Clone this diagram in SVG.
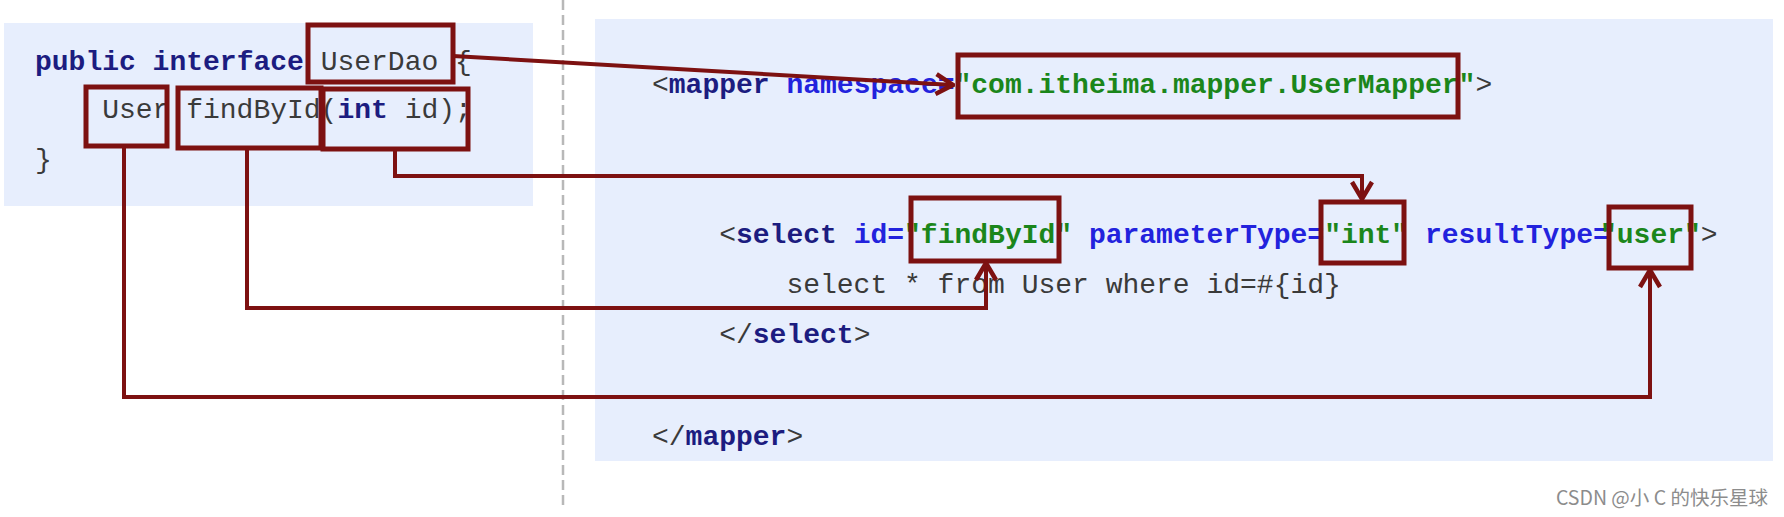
<svg xmlns="http://www.w3.org/2000/svg" width="1784" height="517" viewBox="0 0 1784 517">
<style>
.code{font-family:"Liberation Mono","Courier New",monospace;font-size:28px;fill:#3a3a3a}
.kw{font-weight:bold;fill:#1c1c80}
.at{font-weight:bold;fill:#2222dd}
.val{font-weight:bold;fill:#1b861b}
.box{fill:none;stroke:#7d1111;stroke-width:5}
.conn{fill:none;stroke:#7d1111;stroke-width:4;stroke-linejoin:miter}
.panel{fill:#e7eefd}
.wm{font-family:"Noto Sans CJK SC","Noto Sans",sans-serif;font-size:19.5px;fill:#8c8c8c}
</style>
<defs>
<marker id="ah" markerUnits="userSpaceOnUse" viewBox="0 0 22 24" markerWidth="22" markerHeight="24" refX="20" refY="12" orient="auto">
<path d="M3,2 L20,12 L3,22" fill="none" stroke="#7d1111" stroke-width="4.5"/>
</marker>
</defs>
<rect width="1784" height="517" fill="#ffffff"/>
<rect class="panel" x="4" y="23" width="529" height="183"/>
<rect class="panel" x="595" y="19" width="1178" height="442"/>
<line x1="563" y1="0" x2="563" y2="507" stroke="#b8b8b8" stroke-width="2.5" stroke-dasharray="10 5"/>

<g id="interface-code">
<text class="code" x="35" y="70" xml:space="preserve"><tspan class="kw">public interface</tspan> UserDao {</text>
<text class="code" x="102.2" y="118" xml:space="preserve">User findById(<tspan class="kw">int</tspan> id);</text>
<text class="code" x="35" y="168">}</text>
</g>

<g id="mapper-code">
<text class="code" x="652" y="93" xml:space="preserve">&lt;<tspan class="kw">mapper</tspan> <tspan class="at">namespace=</tspan><tspan class="val">"com.itheima.mapper.UserMapper"</tspan>&gt;</text>
<text class="code" x="719.2" y="243" xml:space="preserve">&lt;<tspan class="kw">select</tspan> <tspan class="at">id=</tspan><tspan class="val">"findById"</tspan> <tspan class="at">parameterType=</tspan><tspan class="val">"int"</tspan> <tspan class="at">resultType=</tspan><tspan class="val" x="1600">"user"</tspan>&gt;</text>
<text class="code" x="786.4" y="293" xml:space="preserve">select * from User where id=#{id}</text>
<text class="code" x="719.2" y="343" xml:space="preserve">&lt;/<tspan class="kw">select</tspan>&gt;</text>
<text class="code" x="652" y="445" xml:space="preserve">&lt;/<tspan class="kw">mapper</tspan>&gt;</text>
</g>

<g id="box-userdao"><rect class="box" x="308" y="25" width="145" height="57"/></g>
<g id="box-user"><rect class="box" x="86" y="87" width="81" height="59"/></g>
<g id="box-findbyid"><rect class="box" x="178" y="88" width="143" height="60"/></g>
<g id="box-intid"><rect class="box" x="323" y="89" width="145" height="60"/></g>
<g id="box-namespace"><rect class="box" x="958" y="55" width="500" height="62"/></g>
<g id="box-select-id"><rect class="box" x="911" y="198" width="148" height="63"/></g>
<g id="box-paramtype"><rect class="box" x="1321" y="202" width="83" height="61"/></g>
<g id="box-resulttype"><rect class="box" x="1609" y="207" width="82" height="61"/></g>

<g id="connectors">
<path class="conn" d="M453,56 L953,85" marker-end="url(#ah)"/>
<path class="conn" d="M395,149 L395,176 L1362,176 L1362,199" marker-end="url(#ah)"/>
<path class="conn" d="M247,148 L247,308 L986,308 L986,263" marker-end="url(#ah)"/>
<path class="conn" d="M124,146 L124,397 L1650,397 L1650,270" marker-end="url(#ah)"/>
</g>

<text class="wm" x="1768" y="505" text-anchor="end">CSDN @小 C 的快乐星球</text>
</svg>
